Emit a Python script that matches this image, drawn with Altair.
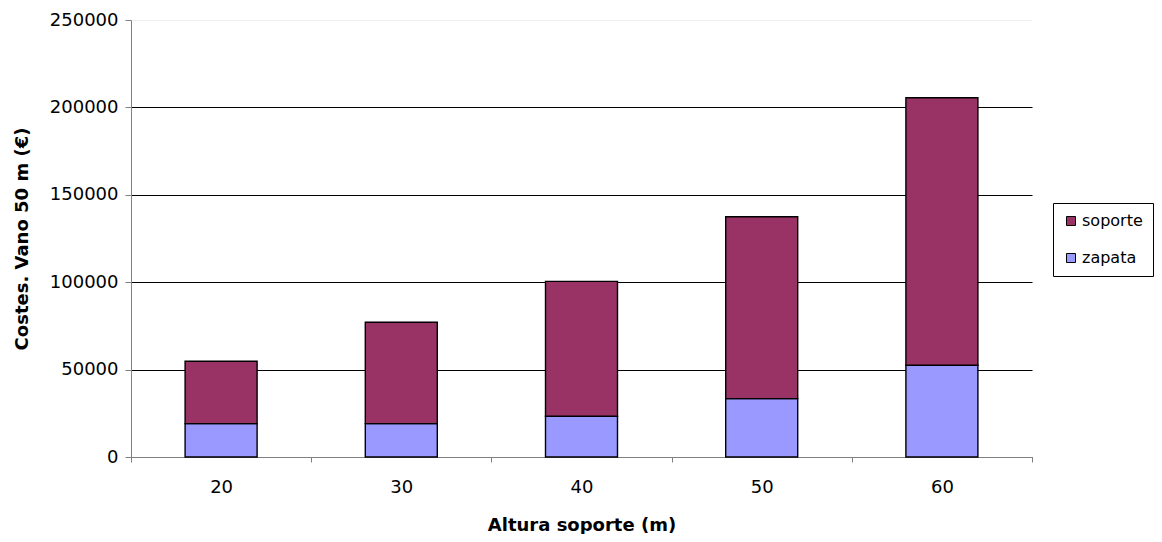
import altair as alt
import pandas as pd

alturas = ["20", "30", "40", "50", "60"]
zapata = [19100, 19100, 23300, 33400, 52500]
soporte = [35700, 58000, 77200, 104000, 153000]

rows = []
for a, z, s in zip(alturas, zapata, soporte):
    rows.append({"altura": a, "serie": "zapata", "valor": z, "ord": 0})
    rows.append({"altura": a, "serie": "soporte", "valor": s, "ord": 1})
df = pd.DataFrame(rows)

font = "DejaVu Sans"

chart = alt.Chart(df).mark_bar(
    stroke="black", strokeWidth=1.4, size=72
).encode(
    x=alt.X("altura:N", sort=alturas,
            scale=alt.Scale(paddingInner=0, paddingOuter=0),
            axis=alt.Axis(title="Altura soporte (m)", labelAngle=0,
                          labelFont=font, labelFontSize=18, labelColor="black",
                          labelPadding=16, titleFont=font, titleFontSize=18,
                          titleFontWeight="bold", titlePadding=20,
                          titleColor="black",
                          tickBand="extent", tickSize=5, tickColor="#808080",
                          domainColor="#808080", grid=False)),
    y=alt.Y("valor:Q", stack="zero",
            scale=alt.Scale(domain=[0, 250000], nice=False),
            axis=alt.Axis(title="Costes. Vano 50 m (€)",
                          values=[0, 50000, 100000, 150000, 200000, 250000],
                          format="d", labelFont=font, labelFontSize=18,
                          labelColor="black", labelPadding=7,
                          titleFont=font, titleFontSize=18, titleFontWeight="bold",
                          titleColor="black", titlePadding=18,
                          tickSize=6, tickColor="#808080", domainColor="#808080",
                          grid=True,
                          gridColor=alt.condition("datum.value == 250000",
                                                  alt.value("#eeeeee"), alt.value("#000000")),
                          gridWidth=1)),
    color=alt.Color("serie:N",
                    scale=alt.Scale(domain=["soporte", "zapata"], range=["#993366", "#9999FF"]),
                    legend=alt.Legend(title=None, orient="none", legendX=922, legendY=183,
                                      labelFont=font, labelFontSize=16, labelColor="black",
                                      labelOffset=3,
                                      symbolType="square", symbolSize=81,
                                      symbolStrokeColor="black", symbolStrokeWidth=1,
                                      rowPadding=21, padding=10,
                                      strokeColor="black", fillColor="white")),
    order=alt.Order("ord:Q", sort="ascending"),
).properties(
    width=901, height=437,
    autosize=alt.AutoSizeParams(type="none"),
    padding={"left": 123, "top": 12, "right": 122, "bottom": 77},
).configure_view(stroke=None)

chart.save("out.html", embed_options={"renderer": "svg", "actions": False})
